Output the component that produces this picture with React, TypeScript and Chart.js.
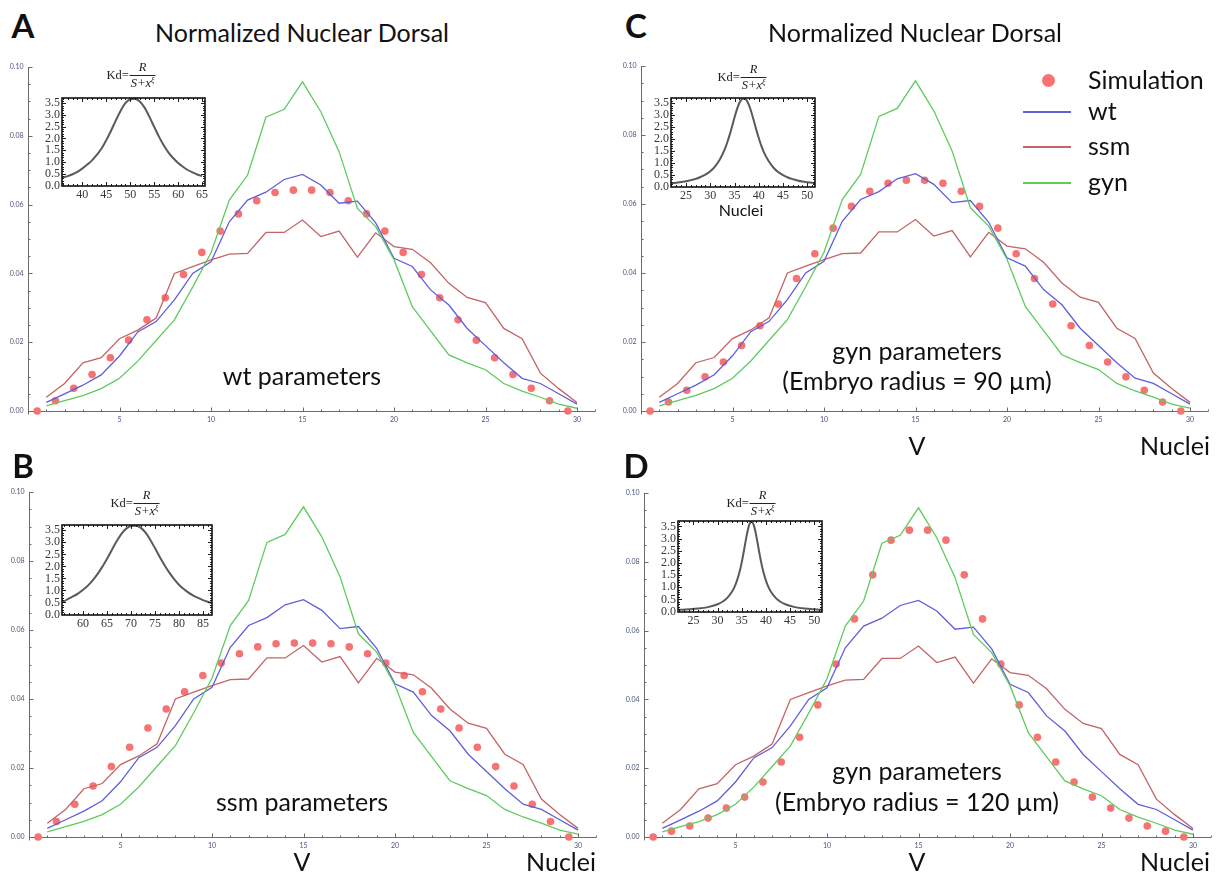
import React, { useEffect, useRef } from "react";
import { Chart, registerables } from "chart.js";

Chart.register(...registerables);

// ---------------- data ----------------
const nucleiX = [1, 2, 3, 4, 5, 6, 7, 8, 9, 10, 11, 12, 13, 14, 15, 16, 17, 18, 19, 20, 21, 22, 23, 24, 25, 26, 27, 28, 29, 30];
const simX = [0.5, 1.5, 2.5, 3.5, 4.5, 5.5, 6.5, 7.5, 8.5, 9.5, 10.5, 11.5, 12.5, 13.5, 14.5, 15.5, 16.5, 17.5, 18.5, 19.5, 20.5, 21.5, 22.5, 23.5, 24.5, 25.5, 26.5, 27.5, 28.5, 29.5];

const wt = [0.0025, 0.005, 0.0075, 0.0105, 0.016, 0.023, 0.026, 0.0323, 0.04, 0.0434, 0.055, 0.0613, 0.0636, 0.0673, 0.0688, 0.0657, 0.0604, 0.061, 0.0547, 0.0444, 0.042, 0.0352, 0.0308, 0.024, 0.019, 0.014, 0.0095, 0.008, 0.005, 0.002];
const ssm = [0.004, 0.008, 0.014, 0.0155, 0.021, 0.0235, 0.027, 0.04, 0.042, 0.0439, 0.0456, 0.0458, 0.0519, 0.0519, 0.0555, 0.0507, 0.0523, 0.0447, 0.0518, 0.0478, 0.047, 0.0431, 0.0371, 0.033, 0.0315, 0.024, 0.021, 0.011, 0.0065, 0.0025];
const gyn = [0.0015, 0.003, 0.0045, 0.0065, 0.0095, 0.0145, 0.0205, 0.0265, 0.036, 0.046, 0.0613, 0.0686, 0.0854, 0.0877, 0.0957, 0.087, 0.0754, 0.0589, 0.0536, 0.044, 0.0303, 0.0233, 0.0163, 0.014, 0.012, 0.008, 0.0058, 0.004, 0.002, 0.0008];

const simA = [0, 0.003, 0.0066, 0.0106, 0.0155, 0.0206, 0.0265, 0.0329, 0.0397, 0.0461, 0.0523, 0.0573, 0.0611, 0.0635, 0.0642, 0.0642, 0.0635, 0.0611, 0.0573, 0.0523, 0.0461, 0.0397, 0.0329, 0.0265, 0.0206, 0.0155, 0.0106, 0.0066, 0.003, 0];
const simB = [0, 0.0045, 0.0095, 0.0148, 0.0204, 0.026, 0.0316, 0.0371, 0.0421, 0.0468, 0.0504, 0.0531, 0.0551, 0.056, 0.0562, 0.0562, 0.056, 0.0551, 0.0531, 0.0504, 0.0468, 0.0421, 0.0371, 0.0316, 0.026, 0.0204, 0.0148, 0.0095, 0.0045, 0];
const simC = [0, 0.0026, 0.006, 0.0099, 0.0142, 0.019, 0.0247, 0.031, 0.0384, 0.0456, 0.053, 0.0593, 0.0637, 0.066, 0.0669, 0.0669, 0.066, 0.0637, 0.0593, 0.053, 0.0456, 0.0384, 0.031, 0.0247, 0.019, 0.0142, 0.0099, 0.006, 0.0026, 0];
const simD = [0, 0.0017, 0.0032, 0.0055, 0.0084, 0.0116, 0.016, 0.0218, 0.029, 0.0384, 0.0503, 0.0634, 0.0762, 0.0863, 0.0892, 0.0892, 0.0863, 0.0762, 0.0634, 0.0503, 0.0384, 0.029, 0.0218, 0.016, 0.0116, 0.0084, 0.0055, 0.0032, 0.0017, 0];

const mainXTicks = [5, 10, 15, 20, 25, 30];
const mainYTicks = [0, 0.02, 0.04, 0.06, 0.08, 0.1];

// inset curves (Kd profiles)
const insetAX = [36, 37, 38, 39, 40, 41, 42, 43, 44, 45, 46, 47, 48, 49, 50, 51, 52, 53, 54, 55, 56, 57, 58, 59, 60, 61, 62, 63, 64, 65];
const insetAY = [0.34, 0.4, 0.48, 0.58, 0.72, 0.88, 1.06, 1.29, 1.56, 1.92, 2.32, 2.76, 3.17, 3.5, 3.67, 3.69, 3.57, 3.31, 2.93, 2.5, 2.08, 1.71, 1.4, 1.16, 0.96, 0.8, 0.66, 0.56, 0.47, 0.4];
const insetBX = [55.5, 56, 57, 58, 59, 60, 61, 62, 63, 64, 65, 66, 67, 68, 69, 70, 71, 72, 73, 74, 75, 76, 77, 78, 79, 80, 81, 82, 83, 84, 85, 86, 87];
const insetBY = [0.51, 0.55, 0.66, 0.76, 0.88, 1.03, 1.2, 1.42, 1.68, 1.98, 2.32, 2.68, 3.04, 3.35, 3.57, 3.68, 3.69, 3.61, 3.41, 3.11, 2.76, 2.39, 2.05, 1.74, 1.47, 1.24, 1.06, 0.91, 0.79, 0.69, 0.6, 0.53, 0.47];
const insetCX = [22, 23, 24, 25, 26, 27, 28, 29, 30, 31, 32, 33, 33.5, 34, 34.5, 35, 35.5, 36, 36.5, 37, 37.5, 38, 38.5, 39, 39.5, 40, 40.5, 41, 42, 43, 44, 45, 46, 47, 48, 49, 50, 51, 52];
const insetCY = [0.14, 0.16, 0.19, 0.22, 0.27, 0.32, 0.4, 0.5, 0.64, 0.85, 1.15, 1.57, 1.85, 2.17, 2.53, 2.9, 3.24, 3.51, 3.67, 3.7, 3.62, 3.41, 3.11, 2.75, 2.38, 2.04, 1.73, 1.47, 1.08, 0.8, 0.61, 0.48, 0.38, 0.31, 0.255, 0.21, 0.18, 0.155, 0.135];
const insetDX = [22, 24, 26, 28, 30, 31, 32, 33, 33.5, 34, 34.5, 35, 35.5, 36, 36.5, 37, 37.5, 38, 38.5, 39, 39.5, 40, 40.5, 41, 42, 43, 44, 46, 48, 50, 52];
const insetDY = [0.07, 0.09, 0.12, 0.18, 0.3, 0.4, 0.56, 0.82, 1.01, 1.27, 1.6, 2.03, 2.56, 3.11, 3.54, 3.7, 3.54, 3.11, 2.56, 2.03, 1.6, 1.27, 1.01, 0.82, 0.56, 0.4, 0.3, 0.18, 0.12, 0.09, 0.07];

const insetYTicks = [0, 0.5, 1, 1.5, 2, 2.5, 3, 3.5];
const insetAXTicks = [40, 45, 50, 55, 60, 65];
const insetBXTicks = [60, 65, 70, 75, 80, 85];
const insetCDXTicks = [25, 30, 35, 40, 45, 50];

// ---------------- style ----------------
const SANS = 'Lato, "Open Sans", sans-serif';
const SERIF = '"Liberation Serif", "DejaVu Serif", serif';
const C_SIM = "#f77272";
const C_WT = "#5f5fd8";
const C_SSM = "#c56464";
const C_GYN = "#5fcb5f";

const UNIT_X = 18.3;
const X_MAX = 31;
const Y_MIN = -0.001;
const Y_MAX = 0.1;

type MainGeom = { axisX: number; y10: number; y0: number };

function mainAxesPlugin() {
  return {
    id: "mainAxes",
    beforeDatasetsDraw(chart: any) {
      const { ctx } = chart;
      const x = chart.scales.x;
      const y = chart.scales.y;
      const ox = Math.round(x.getPixelForValue(0)) + 0.5;
      const oy = Math.round(y.getPixelForValue(0)) + 0.5;
      ctx.save();
      ctx.strokeStyle = "#6b6b6b";
      ctx.lineWidth = 1;
      ctx.beginPath();
      ctx.moveTo(ox, oy);
      ctx.lineTo(x.getPixelForValue(X_MAX), oy);
      ctx.moveTo(ox, y.getPixelForValue(Y_MIN));
      ctx.lineTo(ox, y.getPixelForValue(Y_MAX));
      for (let i = 1; i <= 31; i++) {
        const px = Math.round(x.getPixelForValue(i)) + 0.5;
        const len = mainXTicks.includes(i) ? 4 : 2;
        ctx.moveTo(px, oy);
        ctx.lineTo(px, oy - len);
      }
      for (let k = 1; k <= 20; k++) {
        const v = k * 0.005;
        const py = Math.round(y.getPixelForValue(v)) + 0.5;
        const len = k % 4 === 0 ? 4 : 2;
        ctx.moveTo(ox, py);
        ctx.lineTo(ox + len, py);
      }
      ctx.stroke();
      ctx.fillStyle = "#4a5578";
      ctx.font = `7px ${SANS}`;
      ctx.textAlign = "center";
      ctx.textBaseline = "top";
      for (const t of mainXTicks) ctx.fillText(String(t), x.getPixelForValue(t), oy + 5);
      ctx.textAlign = "right";
      ctx.textBaseline = "middle";
      for (const t of mainYTicks) ctx.fillText(t.toFixed(2), ox - 5, y.getPixelForValue(t));
      ctx.restore();
    },
  };
}

function MainPanel({ g, sim }: { g: MainGeom; sim: number[] }) {
  const ref = useRef<HTMLCanvasElement>(null);
  const padL = 30;
  const padT = 20;
  const padB = 20;
  const W = 610;
  const areaH = (g.y0 - g.y10) * 1.01;
  const H = Math.ceil(padT + areaH + padB);
  const padR = W - padL - X_MAX * UNIT_X;
  const bottomPad = H - padT - areaH;
  useEffect(() => {
    const mk = (xs: number[], ys: number[]) => xs.map((v, i) => ({ x: v, y: ys[i] }));
    const chart = new Chart(ref.current!, {
      type: "line",
      data: {
        datasets: [
          { label: "Simulation", data: mk(simX, sim), showLine: false, pointRadius: 3.8, pointBackgroundColor: C_SIM, pointBorderWidth: 0, borderColor: C_SIM, order: 4, clip: false } as any,
          { label: "ssm", data: mk(nucleiX, ssm), borderColor: C_SSM, borderWidth: 1.3, pointRadius: 0, tension: 0, order: 3 },
          { label: "wt", data: mk(nucleiX, wt), borderColor: C_WT, borderWidth: 1.3, pointRadius: 0, tension: 0, order: 2 },
          { label: "gyn", data: mk(nucleiX, gyn), borderColor: C_GYN, borderWidth: 1.3, pointRadius: 0, tension: 0, order: 1 },
        ],
      },
      options: {
        animation: false,
        responsive: false,
        maintainAspectRatio: false,
        events: [],
        layout: { padding: { left: padL, right: padR, top: padT, bottom: bottomPad } },
        scales: {
          x: { type: "linear", min: 0, max: X_MAX, display: false },
          y: { type: "linear", min: Y_MIN, max: Y_MAX, display: false },
        },
        plugins: { legend: { display: false }, tooltip: { enabled: false } },
      },
      plugins: [mainAxesPlugin()],
    });
    return () => chart.destroy();
  }, []);
  return (
    <canvas
      ref={ref}
      width={W}
      height={H}
      style={{ position: "absolute", left: g.axisX - padL, top: g.y10 - padT, width: W, height: H }}
    />
  );
}

type InsetGeom = { l: number; t: number; r: number; b: number; xmin: number; xmax: number };
const INSET_YMIN = -0.02;
const INSET_YMAX = 3.72;

function insetPlugin(xTicks: number[]) {
  return {
    id: "insetFrame",
    afterDatasetsDraw(chart: any) {
      const { ctx, chartArea: a } = chart;
      const x = chart.scales.x;
      const y = chart.scales.y;
      ctx.save();
      ctx.strokeStyle = "#1e1e1e";
      ctx.lineWidth = 1;
      ctx.beginPath();
      const x0 = Math.ceil(x.min);
      const x1 = Math.floor(x.max);
      for (let v = x0; v <= x1; v++) {
        const px = Math.round(x.getPixelForValue(v)) + 0.5;
        const len = xTicks.includes(v) ? 4 : 2;
        ctx.moveTo(px, a.bottom);
        ctx.lineTo(px, a.bottom - len);
        ctx.moveTo(px, a.top);
        ctx.lineTo(px, a.top + len);
      }
      for (let k = 1; k <= 37; k++) {
        const v = k * 0.1;
        const py = Math.round(y.getPixelForValue(v)) + 0.5;
        if (py < a.top + 1) continue;
        const len = k % 5 === 0 ? 4 : 2;
        ctx.moveTo(a.left, py);
        ctx.lineTo(a.left + len, py);
        ctx.moveTo(a.right, py);
        ctx.lineTo(a.right - len, py);
      }
      ctx.stroke();
      ctx.lineWidth = 1.6;
      ctx.strokeStyle = "#111";
      ctx.strokeRect(a.left, a.top, a.right - a.left, a.bottom - a.top);
      ctx.fillStyle = "#3a3632";
      ctx.font = `12px ${SERIF}`;
      ctx.textAlign = "center";
      ctx.textBaseline = "top";
      for (const t of xTicks) ctx.fillText(String(t), x.getPixelForValue(t), a.bottom + 3);
      ctx.textAlign = "right";
      ctx.textBaseline = "middle";
      for (const t of insetYTicks) ctx.fillText(t.toFixed(1), a.left - 2, y.getPixelForValue(t));
      ctx.restore();
    },
  };
}

function Inset({ g, xs, ys, xTicks }: { g: InsetGeom; xs: number[]; ys: number[]; xTicks: number[] }) {
  const ref = useRef<HTMLCanvasElement>(null);
  const padL = 28;
  const padT = 6;
  const padR = 8;
  const padB = 20;
  const W = g.r - g.l + padL + padR;
  const H = g.b - g.t + padT + padB;
  useEffect(() => {
    const chart = new Chart(ref.current!, {
      type: "line",
      data: {
        datasets: [
          {
            data: xs.map((v, i) => ({ x: v, y: ys[i] })),
            borderColor: "#5a5a5a",
            borderWidth: 2,
            pointRadius: 0,
            cubicInterpolationMode: "monotone",
          },
        ],
      },
      options: {
        animation: false,
        responsive: false,
        maintainAspectRatio: false,
        events: [],
        layout: { padding: { left: padL, right: padR, top: padT, bottom: padB } },
        scales: {
          x: { type: "linear", min: g.xmin, max: g.xmax, display: false },
          y: { type: "linear", min: INSET_YMIN, max: INSET_YMAX, display: false },
        },
        plugins: { legend: { display: false }, tooltip: { enabled: false } },
      },
      plugins: [insetPlugin(xTicks)],
    });
    return () => chart.destroy();
  }, []);
  return (
    <canvas
      ref={ref}
      width={W}
      height={H}
      style={{ position: "absolute", left: g.l - padL, top: g.t - padT, width: W, height: H }}
    />
  );
}

function T({ x, y, size, children, bold, align = "center", family = SANS }: any) {
  const tx = align === "center" ? "-50%" : align === "right" ? "-100%" : "0";
  return (
    <div
      style={{
        position: "absolute",
        left: x,
        top: y,
        transform: `translate(${tx}, -50%)`,
        fontSize: size,
        fontFamily: family,
        fontWeight: bold ? 700 : 400,
        lineHeight: 1,
        whiteSpace: "nowrap",
        color: "#111",
      }}
    >
      {children}
    </div>
  );
}

function Formula({ x, y }: { x: number; y: number }) {
  return (
    <div
      style={{
        position: "absolute",
        left: x,
        top: y,
        transform: "translate(-50%, -50%)",
        display: "flex",
        alignItems: "center",
        fontFamily: SERIF,
        fontSize: 12.5,
        color: "#222",
        whiteSpace: "nowrap",
      }}
    >
      <span>Kd=</span>
      <span style={{ display: "inline-flex", flexDirection: "column", alignItems: "center", marginLeft: 1 }}>
        <span style={{ fontStyle: "italic", lineHeight: 1, paddingBottom: 1 }}>R</span>
        <span style={{ borderTop: "1px solid #222", fontStyle: "italic", lineHeight: 1, padding: "1px 1px 0" }}>
          S+x<span style={{ fontSize: 8, position: "relative", top: -4 }}>ξ</span>
        </span>
      </span>
    </div>
  );
}

const gA: MainGeom = { axisX: 28, y10: 67, y0: 411 };
const gB: MainGeom = { axisX: 29, y10: 492, y0: 837 };
const gC: MainGeom = { axisX: 641, y10: 66, y0: 411 };
const gD: MainGeom = { axisX: 644, y10: 493, y0: 837 };

const iA: InsetGeom = { l: 62, t: 98, r: 205, b: 186, xmin: 35.8, xmax: 65.6 };
const iB: InsetGeom = { l: 62, t: 525, r: 212, b: 615, xmin: 55.6, xmax: 86.9 };
const iC: InsetGeom = { l: 671, t: 98, r: 815, b: 187, xmin: 21.9, xmax: 51.6 };
const iD: InsetGeom = { l: 678, t: 521, r: 822, b: 612, xmin: 21.8, xmax: 51.6 };

export default function App() {
  const legendRows = [
    { label: "wt", color: C_WT, y: 112 },
    { label: "ssm", color: C_SSM, y: 147 },
    { label: "gyn", color: C_GYN, y: 183 },
  ];
  return (
    <div style={{ position: "absolute", left: 0, top: 0, width: 1221, height: 880, background: "#fff", overflow: "hidden" }}>
      <MainPanel g={gA} sim={simA} />
      <MainPanel g={gB} sim={simB} />
      <MainPanel g={gC} sim={simC} />
      <MainPanel g={gD} sim={simD} />
      <Inset g={iA} xs={insetAX} ys={insetAY} xTicks={insetAXTicks} />
      <Inset g={iB} xs={insetBX} ys={insetBY} xTicks={insetBXTicks} />
      <Inset g={iC} xs={insetCX} ys={insetCY} xTicks={insetCDXTicks} />
      <Inset g={iD} xs={insetDX} ys={insetDY} xTicks={insetCDXTicks} />
      <Formula x={131} y={75} />
      <Formula x={135} y={503} />
      <Formula x={742} y={77} />
      <Formula x={751} y={503} />

      <T x={23} y={25} size={33} bold>A</T>
      <T x={23} y={465} size={33} bold>B</T>
      <T x={636} y={25} size={33} bold>C</T>
      <T x={636} y={465} size={33} bold>D</T>

      <T x={302} y={32} size={25}>Normalized Nuclear Dorsal</T>
      <T x={915} y={32} size={25}>Normalized Nuclear Dorsal</T>

      <T x={302} y={375} size={25}>wt parameters</T>
      <T x={302} y={801} size={25}>ssm parameters</T>
      <T x={917} y={350} size={25}>gyn parameters</T>
      <T x={917} y={380} size={25}>(Embryo radius = 90 µm)</T>
      <T x={917} y={770} size={25}>gyn parameters</T>
      <T x={917} y={801} size={25}>(Embryo radius = 120 µm)</T>

      <T x={741} y={210} size={16}>Nuclei</T>

      <T x={917} y={445} size={25}>V</T>
      <T x={1175} y={445} size={25}>Nuclei</T>
      <T x={302} y={861} size={25}>V</T>
      <T x={561} y={861} size={25}>Nuclei</T>
      <T x={917} y={861} size={25}>V</T>
      <T x={1175} y={861} size={25}>Nuclei</T>

      <div style={{ position: "absolute", left: 1048 - 6.5, top: 80 - 6.5, width: 13, height: 13, borderRadius: "50%", background: C_SIM }} />
      <T x={1088} y={79} size={25} align="left">Simulation</T>
      {legendRows.map((r) => (
        <React.Fragment key={r.label}>
          <div style={{ position: "absolute", left: 1023, top: r.y - 1, width: 48, height: 2.4, background: r.color }} />
          <T x={1088} y={r.y - 2} size={25} align="left">{r.label}</T>
        </React.Fragment>
      ))}
    </div>
  );
}
